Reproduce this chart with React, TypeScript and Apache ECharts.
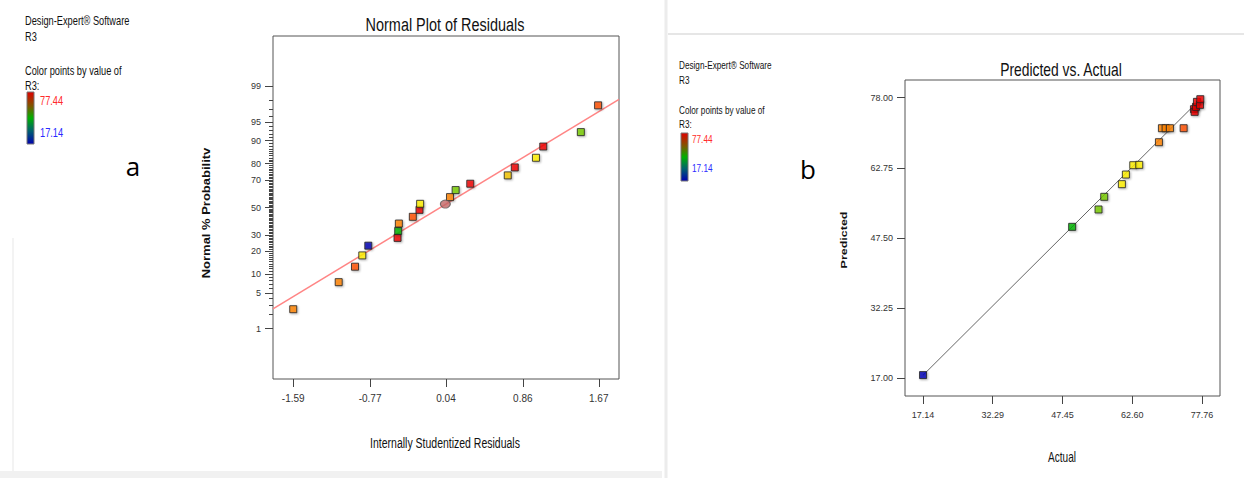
import React, { useEffect, useRef } from "react";
import * as echarts from "echarts";

// ---------- data: Normal plot of residuals ----------
const residualTicks = [-1.59, -0.77, 0.04, 0.86, 1.67];
const probabilityTicks = [1, 5, 10, 20, 30, 50, 70, 80, 90, 95, 99];
const residuals = [-1.59, -1.105, -0.931, -0.853, -0.789, -0.477, -0.47, -0.463, -0.314, -0.243, -0.236, 0.083, 0.143, 0.299, 0.699, 0.774, 1.0, 1.078, 1.479, 1.663];
const normalPercent = [2.55, 7.6, 12.8, 17.9, 23.2, 28.0, 32.7, 37.9, 42.9, 48.2, 52.8, 57.9, 63.1, 67.6, 73.1, 77.9, 83.0, 87.9, 92.6, 97.5];
const residualR3 = [69.1, 70.0, 73.8, 61.2, 17.14, 76.2, 49.6, 68.4, 73.0, 77.4, 62.8, 69.9, 55.3, 76.7, 65.5, 76.0, 60.4, 77.3, 56.5, 72.5];
const highlightResidual = [0.033];
const highlightPercent = [52.6];
const fitResidual = [-1.806, 1.886];
const fitPercent = [2.6, 98.1];

// ---------- data: Predicted vs. Actual ----------
const actualTicks = [17.14, 32.29, 47.45, 62.6, 77.76];
const predictedTicks = [17.0, 32.25, 47.5, 62.75, 78.0];
const actual = [17.14, 49.55, 55.28, 56.52, 60.36, 61.23, 62.83, 64.13, 68.41, 69.06, 69.86, 70.8, 73.78, 76.02, 76.17, 76.46, 76.67, 77.33, 77.4];
const predicted = [17.73, 49.92, 53.69, 56.44, 59.19, 61.28, 63.31, 63.38, 68.3, 71.34, 71.34, 71.34, 71.34, 75.47, 74.89, 75.98, 77.06, 76.41, 77.64];
const parityActual = [17.14, 77.33];
const parityPredicted = [17.7, 77.57];

const R3_MAX = "77.44";
const R3_MIN = "17.14";

// inverse standard normal CDF (probability axis transform)
function probit(p: number): number {
  const a = [-39.69683028665376, 220.9460984245205, -275.9285104469687, 138.357751867269, -30.66479806614716, 2.506628277459239];
  const b = [-54.47609879822406, 161.5858368580409, -155.6989798598866, 66.80131188771972, -13.28068155288572];
  const c = [-0.007784894002430293, -0.3223964580411365, -2.400758277161838, -2.549732539343734, 4.374664141464968, 2.938163982698783];
  const d = [0.007784695709041462, 0.3224671290700398, 2.445134137142996, 3.754408661907416];
  const pl = 0.02425;
  const ph = 1 - pl;
  if (p < pl) {
    const q = Math.sqrt(-2 * Math.log(p));
    return (((((c[0] * q + c[1]) * q + c[2]) * q + c[3]) * q + c[4]) * q + c[5]) / ((((d[0] * q + d[1]) * q + d[2]) * q + d[3]) * q + 1);
  }
  if (p <= ph) {
    const q = p - 0.5;
    const r = q * q;
    return ((((((a[0] * r + a[1]) * r + a[2]) * r + a[3]) * r + a[4]) * r + a[5]) * q) / (((((b[0] * r + b[1]) * r + b[2]) * r + b[3]) * r + b[4]) * r + 1);
  }
  const q = Math.sqrt(-2 * Math.log(1 - p));
  return -(((((c[0] * q + c[1]) * q + c[2]) * q + c[3]) * q + c[4]) * q + c[5]) / ((((d[0] * q + d[1]) * q + d[2]) * q + d[3]) * q + 1);
}

const SANS = '"Liberation Sans", Arial, Helvetica, sans-serif';
const NARROW = '"Liberation Sans Narrow", "Arial Narrow", "Liberation Sans", Arial, sans-serif';

const colorPieces = [
  { lt: 40, color: "#0000b4" },
  { gte: 40, lt: 53, color: "#00b400" },
  { gte: 53, lt: 58, color: "#78cc00" },
  { gte: 58, lt: 64.5, color: "#fff000" },
  { gte: 64.5, lt: 67, color: "#f5c400" },
  { gte: 67, lt: 71.5, color: "#ff8200" },
  { gte: 71.5, lt: 75, color: "#ff5000" },
  { gte: 75, color: "#f00000" },
];

function txt(x: number, y: number, text: string, o: any = {}) {
  return {
    type: "text",
    x,
    y,
    rotation: o.rotation || 0,
    scaleX: o.scaleX ?? 0.75,
    scaleY: o.scaleY ?? 1,
    silent: true,
    style: {
      text,
      fontFamily: o.fontFamily || SANS,
      fontSize: o.fontSize || 12,
      fontWeight: o.fontWeight || "normal",
      fill: o.fill || "#111",
      align: o.align || "left",
      verticalAlign: "middle",
    },
  };
}

function legendBar(x: number, y: number, h: number) {
  return {
    type: "rect",
    shape: { x, y, width: 7, height: h },
    style: {
      fill: new echarts.graphic.LinearGradient(0, 0, 0, 1, [
        { offset: 0, color: "#e00000" },
        { offset: 0.28, color: "#7a5a00" },
        { offset: 0.5, color: "#00b000" },
        { offset: 0.75, color: "#006070" },
        { offset: 1, color: "#0000b0" },
      ]),
      stroke: "#777",
      lineWidth: 1,
    },
  };
}

export default function App() {
  const ref = useRef<HTMLDivElement>(null);

  useEffect(() => {
    if (!ref.current) return;
    const chart = echarts.init(ref.current, undefined, { renderer: "svg" });

    const zMin = probit(0.0005);
    const zMax = probit(0.9995);
    const majorZ = probabilityTicks.map((p) => probit(p / 100));
    const minorZ: number[] = [];
    for (let p = 1; p <= 99; p++) minorZ.push(probit(p / 100));
    const probLabel = (v: number) => {
      let best = 0;
      majorZ.forEach((z, i) => {
        if (Math.abs(z - v) < Math.abs(majorZ[best] - v)) best = i;
      });
      return String(probabilityTicks[best]);
    };

    const symbolStyle = {
      borderColor: "#222",
      borderWidth: 1,
      shadowColor: "rgba(0,0,0,0.35)",
      shadowBlur: 2,
      shadowOffsetX: 1,
      shadowOffsetY: 1,
    };

    const noLine = { show: false, onZero: false };

    const option: any = {
      animation: false,
      backgroundColor: "#fff",
      grid: [
        { left: 273, top: 36, width: 346, height: 343, show: true, borderColor: "#555", borderWidth: 1, backgroundColor: "transparent" },
        { left: 905, top: 80, width: 315, height: 316, show: true, borderColor: "#555", borderWidth: 1, backgroundColor: "transparent" },
      ],
      xAxis: [
        {
          gridIndex: 0,
          type: "value",
          position: "bottom",
          min: fitResidual[0],
          max: fitResidual[1],
          axisLine: noLine,
          splitLine: { show: false },
          axisTick: { show: true, length: 8, customValues: residualTicks, lineStyle: { color: "#444" } },
          axisLabel: { customValues: residualTicks, formatter: (v: number) => v.toFixed(2), fontSize: 10, fontFamily: NARROW, color: "#333", margin: 14 },
        },
        {
          gridIndex: 1,
          type: "value",
          position: "bottom",
          min: 13.22,
          max: 81.68,
          axisLine: noLine,
          splitLine: { show: false },
          axisTick: { show: true, length: 8, customValues: actualTicks, lineStyle: { color: "#444" } },
          axisLabel: { customValues: actualTicks, formatter: (v: number) => v.toFixed(2), fontSize: 9, fontFamily: NARROW, color: "#333", margin: 14 },
        },
      ],
      yAxis: [
        {
          gridIndex: 0,
          type: "value",
          position: "left",
          min: zMin,
          max: zMax,
          axisLine: noLine,
          splitLine: { show: false },
          axisTick: { show: true, length: 8, customValues: majorZ, lineStyle: { color: "#444" } },
          axisLabel: { customValues: majorZ, formatter: probLabel, fontSize: 9, fontFamily: NARROW, color: "#333", margin: 12 },
        },
        {
          gridIndex: 0,
          type: "value",
          position: "left",
          offset: 0,
          min: zMin,
          max: zMax,
          axisLine: noLine,
          splitLine: { show: false },
          axisTick: { show: true, length: 4, customValues: minorZ, lineStyle: { color: "#444" } },
          axisLabel: { show: false },
        },
        {
          gridIndex: 1,
          type: "value",
          position: "left",
          min: 13.19,
          max: 81.81,
          axisLine: noLine,
          splitLine: { show: false },
          axisTick: { show: true, length: 8, customValues: predictedTicks, lineStyle: { color: "#444" } },
          axisLabel: { customValues: predictedTicks, formatter: (v: number) => v.toFixed(2), fontSize: 9, fontFamily: NARROW, color: "#333", margin: 12 },
        },
      ],
      visualMap: [
        { type: "piecewise", show: false, seriesIndex: 2, dimension: 2, pieces: colorPieces },
        { type: "piecewise", show: false, seriesIndex: 4, dimension: 0, pieces: colorPieces },
      ],
      series: [
        {
          type: "line",
          xAxisIndex: 0,
          yAxisIndex: 0,
          data: fitResidual.map((r, i) => [r, probit(fitPercent[i] / 100)]),
          symbol: "none",
          lineStyle: { color: "#ff8585", width: 1.5 },
          silent: true,
          z: 1,
        },
        {
          type: "line",
          xAxisIndex: 1,
          yAxisIndex: 2,
          data: parityActual.map((a, i) => [a, parityPredicted[i]]),
          symbol: "none",
          lineStyle: { color: "#666", width: 1 },
          silent: true,
          z: 1,
        },
        {
          type: "scatter",
          xAxisIndex: 0,
          yAxisIndex: 0,
          data: residuals.map((r, i) => [r, probit(normalPercent[i] / 100), residualR3[i]]),
          symbol: "rect",
          symbolSize: 7,
          itemStyle: symbolStyle,
          z: 3,
        },
        {
          type: "scatter",
          xAxisIndex: 0,
          yAxisIndex: 0,
          data: highlightResidual.map((r, i) => [r, probit(highlightPercent[i] / 100)]),
          symbol: "circle",
          symbolSize: [10, 8],
          itemStyle: { color: "#c06464", borderColor: "#555", borderWidth: 1 },
          z: 3,
        },
        {
          type: "scatter",
          xAxisIndex: 1,
          yAxisIndex: 2,
          data: actual.map((a, i) => [a, predicted[i]]),
          symbol: "rect",
          symbolSize: 7,
          itemStyle: symbolStyle,
          z: 3,
        },
      ],
      graphic: [
        // faint panel edges of the composite
        { type: "rect", shape: { x: 0, y: 471, width: 662, height: 7 }, style: { fill: "#f1f1f1" }, silent: true },
        { type: "line", shape: { x1: 13, y1: 238, x2: 13, y2: 471 }, style: { stroke: "#f3f3f3", lineWidth: 2 }, silent: true },
        { type: "line", shape: { x1: 666, y1: 0, x2: 666, y2: 478 }, style: { stroke: "#ececec", lineWidth: 3 }, silent: true },
        { type: "line", shape: { x1: 668, y1: 34, x2: 1244, y2: 34 }, style: { stroke: "#e6e6e6", lineWidth: 2 }, silent: true },

        // left legend
        txt(25, 20, "Design-Expert® Software", { fontSize: 12.5, scaleX: 0.74 }),
        txt(25, 36, "R3", { fontSize: 12.5, scaleX: 0.74 }),
        txt(25, 70, "Color points by value of", { fontSize: 12.5, scaleX: 0.74 }),
        txt(25, 85, "R3:", { fontSize: 12.5, scaleX: 0.74 }),
        legendBar(27, 92, 52),
        txt(40, 100, R3_MAX, { fontSize: 12.5, scaleX: 0.74, fill: "#ff2a2a" }),
        txt(40, 132, R3_MIN, { fontSize: 12.5, scaleX: 0.74, fill: "#2a2aff" }),

        // right legend
        txt(679, 65, "Design-Expert® Software", { fontSize: 11, scaleX: 0.745 }),
        txt(679, 80, "R3", { fontSize: 11, scaleX: 0.745 }),
        txt(679, 110, "Color points by value of", { fontSize: 11, scaleX: 0.745 }),
        txt(679, 124, "R3:", { fontSize: 11, scaleX: 0.745 }),
        legendBar(681, 133, 48),
        txt(692, 139, R3_MAX, { fontSize: 11, scaleX: 0.745, fill: "#ff2a2a" }),
        txt(692, 168, R3_MIN, { fontSize: 11, scaleX: 0.745, fill: "#2a2aff" }),

        // panel letters
        txt(133, 166, "a", { fontSize: 26, scaleX: 1, fontFamily: '"Open Sans", "Noto Sans", sans-serif', align: "center", fill: "#000" }),
        txt(808, 169, "b", { fontSize: 26, scaleX: 1, fontFamily: '"Open Sans", "Noto Sans", sans-serif', align: "center", fill: "#000" }),

        // titles
        txt(445, 25, "Normal Plot of Residuals", { fontSize: 19, scaleX: 0.76, align: "center" }),
        txt(1061, 69, "Predicted vs. Actual", { fontSize: 18, scaleX: 0.77, align: "center" }),

        // axis titles
        txt(445, 443, "Internally Studentized Residuals", { fontSize: 14, scaleX: 0.75, align: "center" }),
        txt(1062, 457, "Actual", { fontSize: 14, scaleX: 0.72, align: "center" }),
        txt(206, 213, "Normal % Probabilitv", { fontSize: 13, fontWeight: "bold", rotation: Math.PI / 2, scaleX: 1, scaleY: 0.78, align: "center" }),
        txt(844, 240, "Predicted", { fontSize: 12.5, fontWeight: "bold", rotation: Math.PI / 2, scaleX: 1, scaleY: 0.78, align: "center" }),
      ],
    };

    chart.setOption(option);
    return () => chart.dispose();
  }, []);

  return (
    <div
      ref={ref}
      style={{ position: "fixed", left: 0, top: 0, width: 1244, height: 478, background: "#fff" }}
    />
  );
}
